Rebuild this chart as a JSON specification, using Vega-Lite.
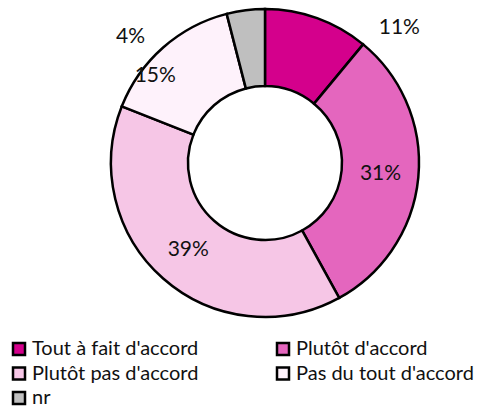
{
  "$schema": "https://vega.github.io/schema/vega-lite/v6.json",
  "width": 448,
  "height": 326,
  "autosize": "none",
  "padding": {"left": 41, "top": 0, "right": 0, "bottom": 82},
  "background": "white",
  "config": {"view": {"stroke": null}, "font": "Lato", "text": {"font": "Lato"}},
  "data": {
    "values": [
      {"cat": "Tout à fait d'accord", "order": 1, "value": 11, "label": "11%"},
      {"cat": "Plutôt d'accord", "order": 2, "value": 31, "label": "31%"},
      {"cat": "Plutôt pas d'accord", "order": 3, "value": 39, "label": "39%"},
      {"cat": "Pas du tout d'accord", "order": 4, "value": 15, "label": "15%"},
      {"cat": "nr", "order": 5, "value": 4, "label": "4%"}
    ]
  },
  "encoding": {
    "theta": {"field": "value", "type": "quantitative", "stack": true},
    "order": {"field": "order", "type": "quantitative"}
  },
  "layer": [
    {
      "mark": {"type": "arc", "innerRadius": 77, "outerRadius": 154, "stroke": "black", "strokeWidth": 2.5},
      "encoding": {
        "color": {
          "field": "cat",
          "type": "nominal",
          "scale": {
            "domain": ["Tout à fait d'accord", "Plutôt pas d'accord", "nr", "Plutôt d'accord", "Pas du tout d'accord"],
            "range": ["#d4008c", "#f6c6e6", "#bfbfbf", "#e466be", "#fef2fb"]
          },
          "legend": {
            "title": null,
            "orient": "none",
            "legendX": -32,
            "legendY": 339,
            "columns": 2,
            "columnPadding": 73,
            "rowPadding": 2.5,
            "padding": 0,
            "symbolType": "square",
            "symbolSize": 144,
            "symbolStrokeColor": "black",
            "symbolStrokeWidth": 2.5,
            "symbolOpacity": 1,
            "labelFont": "Lato",
            "labelFontSize": 20,
            "labelColor": "#111111",
            "labelOffset": 3,
            "labelLimit": 300
          }
        }
      }
    },
    {
      "mark": {"type": "text", "radius": 116, "fontSize": 21, "font": "Lato", "color": "#111111"},
      "encoding": {
        "text": {"condition": {"test": "datum.order == 2 || datum.order == 3", "field": "label"}, "value": ""}
      }
    },
    {
      "mark": {"type": "text", "radius": 116, "dx": -33, "fontSize": 21, "font": "Lato", "color": "#111111"},
      "encoding": {
        "text": {"condition": {"test": "datum.order == 4", "field": "label"}, "value": ""}
      }
    },
    {
      "mark": {"type": "text", "radius": 116, "dx": 95, "dy": -26, "fontSize": 21, "font": "Lato", "color": "#111111"},
      "encoding": {
        "text": {"condition": {"test": "datum.order == 1", "field": "label"}, "value": ""}
      }
    },
    {
      "mark": {"type": "text", "radius": 116, "dx": -120, "dy": -11, "fontSize": 21, "font": "Lato", "color": "#111111"},
      "encoding": {
        "text": {"condition": {"test": "datum.order == 5", "field": "label"}, "value": ""}
      }
    }
  ]
}
